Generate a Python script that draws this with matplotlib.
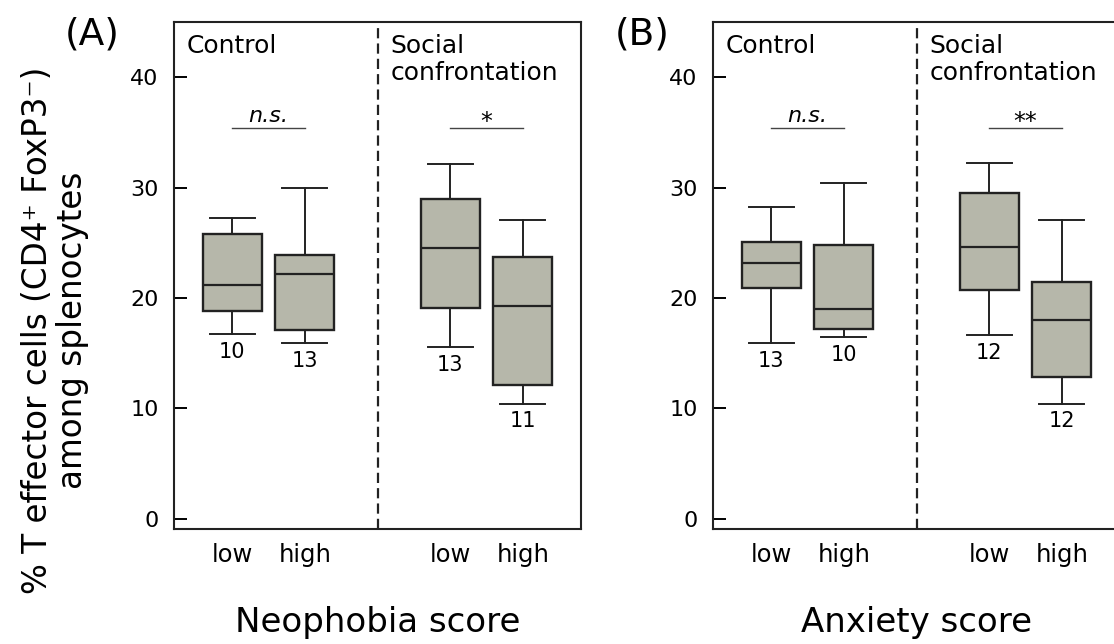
import matplotlib
matplotlib.use("Agg")
import matplotlib.pyplot as plt

# box statistics (low / high for control, then social confrontation)
group_labels = ['low', 'high', 'low', 'high']
positions = [1, 2, 4, 5]

a_whislo = [16.7, 15.9, 15.5, 10.4]
a_q1 = [18.8, 17.1, 19.1, 12.1]
a_med = [21.2, 22.2, 24.55, 19.3]
a_q3 = [25.8, 23.9, 29.0, 23.7]
a_whishi = [27.2, 30.0, 32.1, 27.1]
a_n = [10, 13, 13, 11]
a_sig = ['n.s.', '*']

b_whislo = [15.9, 16.45, 16.6, 10.4]
b_q1 = [20.9, 17.2, 20.7, 12.8]
b_med = [23.2, 19.0, 24.6, 17.95]
b_q3 = [25.1, 24.8, 29.5, 21.4]
b_whishi = [28.25, 30.4, 32.25, 27.1]
b_n = [13, 10, 12, 12]
b_sig = ['n.s.', '**']

sig_y = 35.4
yticks = [0, 10, 20, 30, 40]

fill = '#b6b7aa'
edge = '#222222'

fig = plt.figure(figsize=(11.14, 6.44), dpi=100)
axA = fig.add_axes([174/1114, 1-529/644, 407/1114, 507/644])
axB = fig.add_axes([713/1114, 1-529/644, 407/1114, 507/644])


def draw_panel(ax, whislo, q1, med, q3, whishi, ns, sig, xlabel, show_right=True):
    stats = []
    for i in range(len(med)):
        stats.append(dict(whislo=whislo[i], q1=q1[i], med=med[i], q3=q3[i],
                          whishi=whishi[i], fliers=[]))
    ax.bxp(stats, positions=positions, widths=0.81, capwidths=0.62,
           patch_artist=True, showfliers=False,
           boxprops=dict(facecolor=fill, edgecolor=edge, linewidth=1.7),
           medianprops=dict(color=edge, linewidth=1.6),
           whiskerprops=dict(color=edge, linewidth=1.4),
           capprops=dict(color=edge, linewidth=1.4))
    ax.set_xlim(0.2, 5.8)
    ax.set_ylim(-0.95, 45.0)

    # divider between control and social confrontation
    ax.axvline(3, color=edge, lw=1.6, linestyle=(0, (4.6, 2.3)))

    # sample sizes under the boxes
    for p, lo, n in zip(positions, whislo, ns):
        ax.annotate(str(n), (p, lo), xytext=(0, -5.5), textcoords='offset points',
                    ha='center', va='top', fontsize=15)

    # significance bars
    for (x0, x1), s in zip([(1, 2), (4, 5)], sig):
        ax.plot([x0, x1], [sig_y, sig_y], color='#444444', lw=1.0)
        if s == 'n.s.':
            ax.text((x0+x1)/2, sig_y + 0.5, s, ha='center', va='baseline',
                    fontsize=16, style='italic')
        else:
            ax.text((x0+x1)/2, sig_y - 0.1, s, ha='center', va='baseline',
                    fontsize=17)

    ax.text(0.38, 42.2, 'Control', fontsize=18, va='baseline')
    ax.text(3.18, 42.2, 'Social', fontsize=18, va='baseline')
    ax.text(3.18, 39.7, 'confrontation', fontsize=18, va='baseline')

    ax.set_yticks(yticks)
    ax.tick_params(axis='y', direction='in', length=9.5, width=1.4,
                   labelsize=16, pad=11)
    ax.set_xticks(positions, group_labels)
    ax.tick_params(axis='x', length=0, labelsize=17.5, pad=10)
    ax.set_xlabel(xlabel, fontsize=24.5, labelpad=28)

    for side in ['left', 'right', 'top', 'bottom']:
        ax.spines[side].set_linewidth(1.5)
        ax.spines[side].set_color(edge)
    if not show_right:
        ax.spines['right'].set_visible(False)


draw_panel(axA, a_whislo, a_q1, a_med, a_q3, a_whishi, a_n, a_sig, 'Neophobia score')
draw_panel(axB, b_whislo, b_q1, b_med, b_q3, b_whishi, b_n, b_sig, 'Anxiety score',
           show_right=False)

fig.text(65/1114, 1-35/644, '(A)', fontsize=27, va='center', ha='left')
fig.text(615/1114, 1-34/644, '(B)', fontsize=27, va='center', ha='left')

fig.text(55/1114, 1-330/644,
         '% T effector cells (CD4\u207a FoxP3\u207b)\namong splenocytes',
         rotation=90, fontsize=23.5, ha='center', va='center',
         multialignment='center', linespacing=1.1)

fig.savefig('out.png', dpi=100)
